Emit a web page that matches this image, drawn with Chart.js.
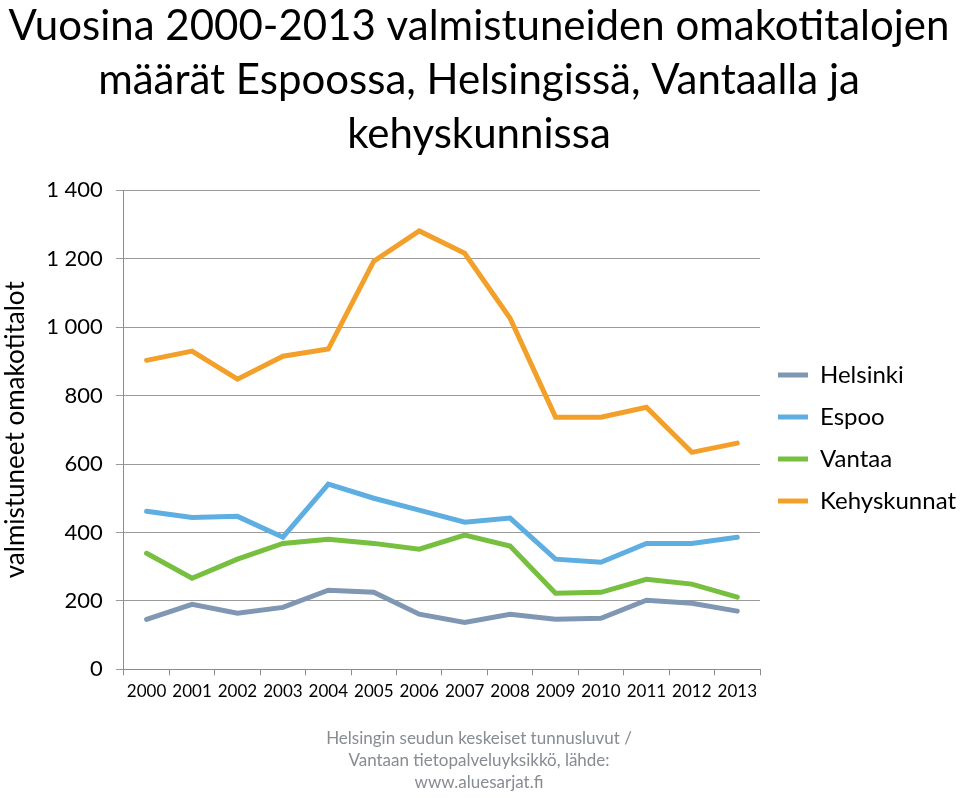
<!DOCTYPE html>
<html>
<head>
<meta charset="utf-8">
<script src="https://cdn.jsdelivr.net/npm/chart.js@4/dist/chart.umd.min.js"></script>
<style>
  html, body { margin: 0; padding: 0; background: #fff; }
  #wrap { width: 960px; height: 798px; }
</style>
</head>
<body>
<div id="wrap"><canvas id="myChart"></canvas></div>
<script>
var years = ["2000", "2001", "2002", "2003", "2004", "2005", "2006",
             "2007", "2008", "2009", "2010", "2011", "2012", "2013"];
var helsinki = [146, 190, 164, 181, 231, 225, 161, 137, 161, 146, 149, 202, 193, 170];
var espoo = [462, 444, 447, 386, 541, 500, 465, 430, 442, 322, 313, 368, 368, 386];
var vantaa = [339, 266, 322, 368, 380, 368, 351, 392, 360, 222, 225, 263, 249, 211];
var kehyskunnat = [903, 930, 848, 915, 936, 1193, 1281, 1216, 1026, 737, 737, 766, 634, 661];

var fontName = "Lato, 'Open Sans', sans-serif";

var makeSet = function (label, values, colour) {
    return {
        label: label,
        data: values,
        borderColor: colour,
        backgroundColor: colour,
        borderWidth: 5,
        borderCapStyle: 'round',
        pointRadius: 0,
        tension: 0
    };
};

var ctx = document.getElementById("myChart");
var myChart = new Chart(ctx, {
    type: 'line',
    data: {
        labels: years,
        datasets: [
            makeSet("Helsinki", helsinki, "#7f97b3"),
            makeSet("Espoo", espoo, "#5eaee2"),
            makeSet("Vantaa", vantaa, "#77bf3f"),
            makeSet("Kehyskunnat", kehyskunnat, "#f3a02a")
        ]
    },
    options: {
        responsive: true,
        maintainAspectRatio: false,
        animation: false,
        layout: { padding: { left: 0, right: 2, top: 0, bottom: 4 } },
        plugins: {
            title: {
                display: true,
                text: ["Vuosina 2000-2013 valmistuneiden omakotitalojen",
                       "määrät Espoossa, Helsingissä, Vantaalla ja",
                       "kehyskunnissa"],
                color: "#000",
                font: { family: fontName, size: 42, weight: 'normal', lineHeight: 1.28 },
                padding: { top: 0, bottom: 29 }
            },
            subtitle: {
                display: true,
                position: 'bottom',
                text: ["Helsingin seudun keskeiset tunnusluvut /",
                       "Vantaan tietopalveluyksikkö, lähde:",
                       "www.aluesarjat.fi"],
                color: "#878b92",
                font: { family: fontName, size: 17, weight: 'normal', lineHeight: 1.3 },
                padding: { top: 20, bottom: 0 }
            },
            legend: {
                position: 'right',
                align: 'center',
                maxWidth: 198,
                title: {
                    // empty title only pushes the items down a little
                    display: true,
                    text: ' ',
                    font: { size: 10 },
                    padding: { top: 0, bottom: 70 }
                },
                labels: {
                    usePointStyle: true,
                    pointStyle: 'line',
                    pointStyleWidth: 30,
                    color: "#000",
                    padding: 18,
                    font: { family: fontName, size: 24 }
                }
            },
            tooltip: { enabled: false }
        },
        scales: {
            x: {
                offset: true,
                border: { color: "#8c8c8c", width: 1 },
                grid: { offset: true, drawOnChartArea: false, tickLength: 6, color: "#8c8c8c" },
                ticks: { color: "#000", font: { family: fontName, size: 17 }, maxRotation: 0, padding: 6 }
            },
            y: {
                min: 0,
                max: 1400,
                border: { color: "#8c8c8c", width: 1 },
                grid: { color: "#9a9a9a", tickLength: 8 },
                ticks: {
                    stepSize: 200,
                    color: "#000",
                    padding: 13,
                    font: { family: fontName, size: 22 },
                    callback: function (v) {
                        return String(v).replace(/\B(?=(\d{3})+(?!\d))/g, " ");
                    }
                },
                title: {
                    display: true,
                    text: "valmistuneet omakotitalot",
                    color: "#000",
                    font: { family: fontName, size: 26 },
                    padding: { top: 0, bottom: 2 }
                }
            }
        }
    }
});
</script>
</body>
</html>
